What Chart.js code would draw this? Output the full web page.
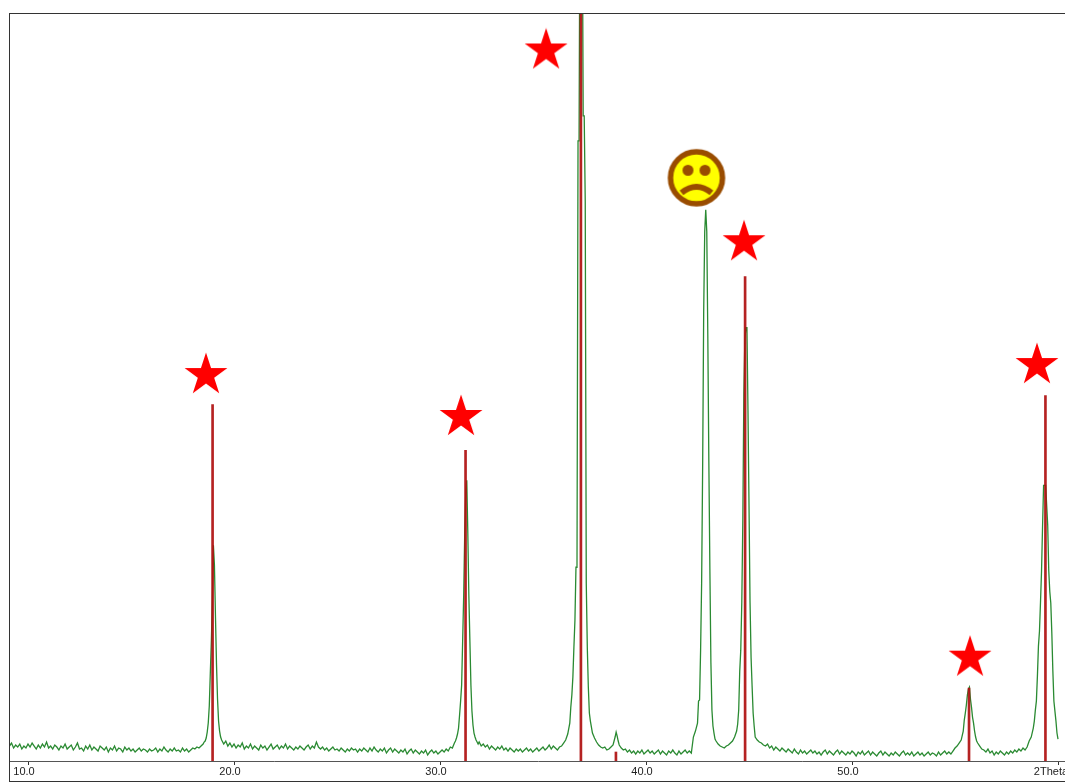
<!DOCTYPE html>
<html>
<head>
<meta charset="utf-8">
<title>XRD pattern</title>
<script src="https://cdn.jsdelivr.net/npm/chart.js@4"></script>
<style>
    html, body { margin: 0; padding: 0; background: #fff; overflow: hidden; }
    #frame {
        position: absolute; left: 9px; top: 13px; width: 1060px; height: 767px;
        border: 1px solid #333; border-right: none; overflow: hidden;
    }
    canvas { display: block; }
</style>
</head>
<body>
<div id="frame"><canvas id="xrdChart" width="1056" height="767"></canvas></div>
<script>
// Values
const xTickValues = [10, 20, 30, 40, 50, 60];
const xTickLabels = ['10.0', '20.0', '30.0', '40.0', '50.0', '2Theta  '];

// measured scan (2theta, intensity)
const scanX = [
    9.1, 9.2, 9.3, 9.4, 9.5, 9.6, 9.7, 9.8, 9.9, 10.0,
    10.1, 10.2, 10.3, 10.4, 10.5, 10.6, 10.7, 10.8, 10.9, 11.0,
    11.1, 11.2, 11.3, 11.4, 11.5, 11.6, 11.7, 11.8, 11.9, 12.0,
    12.1, 12.2, 12.3, 12.4, 12.5, 12.6, 12.7, 12.8, 12.9, 13.0,
    13.1, 13.2, 13.3, 13.4, 13.5, 13.6, 13.7, 13.8, 13.9, 14.0,
    14.1, 14.2, 14.3, 14.4, 14.5, 14.6, 14.7, 14.8, 14.9, 15.0,
    15.1, 15.2, 15.3, 15.4, 15.5, 15.6, 15.7, 15.8, 15.9, 16.0,
    16.1, 16.2, 16.3, 16.4, 16.5, 16.6, 16.7, 16.8, 16.9, 17.0,
    17.1, 17.2, 17.3, 17.4, 17.5, 17.6, 17.7, 17.8, 17.9, 18.0,
    18.1, 18.2, 18.3, 18.4, 18.5, 18.55, 18.6, 18.65, 18.7, 18.75,
    18.8, 18.85, 18.9, 18.95, 19.0, 19.05, 19.1, 19.15, 19.2, 19.25,
    19.3, 19.35, 19.4, 19.45, 19.5, 19.6, 19.7, 19.8, 19.9, 20.0,
    20.1, 20.2, 20.3, 20.4, 20.5, 20.6, 20.7, 20.8, 20.9, 21.0,
    21.1, 21.2, 21.3, 21.4, 21.5, 21.6, 21.7, 21.8, 21.9, 22.0,
    22.1, 22.2, 22.3, 22.4, 22.5, 22.6, 22.7, 22.8, 22.9, 23.0,
    23.1, 23.2, 23.3, 23.4, 23.5, 23.6, 23.7, 23.8, 23.9, 24.0,
    24.1, 24.2, 24.3, 24.4, 24.5, 24.6, 24.7, 24.8, 24.9, 25.0,
    25.1, 25.2, 25.3, 25.4, 25.5, 25.6, 25.7, 25.8, 25.9, 26.0,
    26.1, 26.2, 26.3, 26.4, 26.5, 26.6, 26.7, 26.8, 26.9, 27.0,
    27.1, 27.2, 27.3, 27.4, 27.5, 27.6, 27.7, 27.8, 27.9, 28.0,
    28.1, 28.2, 28.3, 28.4, 28.5, 28.6, 28.7, 28.8, 28.9, 29.0,
    29.1, 29.2, 29.3, 29.4, 29.5, 29.6, 29.7, 29.8, 29.9, 30.0,
    30.1, 30.2, 30.3, 30.4, 30.5, 30.6, 30.7, 30.75, 30.8, 30.85,
    30.9, 30.95, 31.0, 31.05, 31.1, 31.15, 31.2, 31.25, 31.3, 31.35,
    31.4, 31.45, 31.5, 31.55, 31.6, 31.65, 31.7, 31.75, 31.8, 31.85,
    31.9, 32.0, 32.1, 32.2, 32.3, 32.4, 32.5, 32.6, 32.7, 32.8,
    32.9, 33.0, 33.1, 33.2, 33.3, 33.4, 33.5, 33.6, 33.7, 33.8,
    33.9, 34.0, 34.1, 34.2, 34.3, 34.4, 34.5, 34.6, 34.7, 34.8,
    34.9, 35.0, 35.1, 35.2, 35.3, 35.4, 35.5, 35.6, 35.7, 35.8,
    35.9, 36.0, 36.1, 36.2, 36.3, 36.35, 36.4, 36.45, 36.5, 36.55,
    36.6, 36.65, 36.7, 36.75, 36.8, 36.85, 36.9, 36.95, 37.0, 37.05,
    37.1, 37.15, 37.2, 37.25, 37.3, 37.35, 37.4, 37.5, 37.6, 37.7,
    37.8, 37.9, 38.0, 38.1, 38.2, 38.3, 38.4, 38.45, 38.5, 38.55,
    38.6, 38.65, 38.7, 38.8, 38.9, 39.0, 39.1, 39.2, 39.3, 39.4,
    39.5, 39.6, 39.7, 39.8, 39.9, 40.0, 40.1, 40.2, 40.3, 40.4,
    40.5, 40.6, 40.7, 40.8, 40.9, 41.0, 41.1, 41.2, 41.3, 41.4,
    41.5, 41.6, 41.7, 41.8, 41.9, 42.0, 42.1, 42.2, 42.3, 42.4,
    42.5, 42.55, 42.6, 42.65, 42.7, 42.75, 42.8, 42.85, 42.9, 42.95,
    43.0, 43.05, 43.1, 43.15, 43.2, 43.25, 43.3, 43.35, 43.4, 43.5,
    43.6, 43.7, 43.8, 43.9, 44.0, 44.1, 44.2, 44.3, 44.4, 44.45,
    44.5, 44.55, 44.6, 44.65, 44.7, 44.75, 44.8, 44.85, 44.9, 44.95,
    45.0, 45.05, 45.1, 45.15, 45.2, 45.25, 45.3, 45.4, 45.5, 45.6,
    45.7, 45.8, 45.9, 46.0, 46.1, 46.2, 46.3, 46.4, 46.5, 46.6,
    46.7, 46.8, 46.9, 47.0, 47.1, 47.2, 47.3, 47.4, 47.5, 47.6,
    47.7, 47.8, 47.9, 48.0, 48.1, 48.2, 48.3, 48.4, 48.5, 48.6,
    48.7, 48.8, 48.9, 49.0, 49.1, 49.2, 49.3, 49.4, 49.5, 49.6,
    49.7, 49.8, 49.9, 50.0, 50.1, 50.2, 50.3, 50.4, 50.5, 50.6,
    50.7, 50.8, 50.9, 51.0, 51.1, 51.2, 51.3, 51.4, 51.5, 51.6,
    51.7, 51.8, 51.9, 52.0, 52.1, 52.2, 52.3, 52.4, 52.5, 52.6,
    52.7, 52.8, 52.9, 53.0, 53.1, 53.2, 53.3, 53.4, 53.5, 53.6,
    53.7, 53.8, 53.9, 54.0, 54.1, 54.2, 54.3, 54.4, 54.5, 54.6,
    54.7, 54.8, 54.9, 55.0, 55.1, 55.2, 55.3, 55.4, 55.45, 55.5,
    55.55, 55.6, 55.65, 55.7, 55.75, 55.8, 55.85, 55.9, 55.95, 56.0,
    56.05, 56.1, 56.2, 56.3, 56.4, 56.5, 56.6, 56.7, 56.8, 56.9,
    57.0, 57.1, 57.2, 57.3, 57.4, 57.5, 57.6, 57.7, 57.8, 57.9,
    58.0, 58.1, 58.2, 58.3, 58.4, 58.5, 58.6, 58.7, 58.8, 58.85,
    58.9, 58.95, 59.0, 59.05, 59.1, 59.15, 59.2, 59.25, 59.3, 59.35,
    59.4, 59.45, 59.5, 59.55, 59.6, 59.65, 59.7, 59.75, 59.8, 59.85,
    59.9, 59.95, 60.0
];
const scanY = [
    15, 18, 13, 16, 14, 17, 12, 15, 13, 17,
    14, 18, 15, 12, 16, 13, 17, 14, 19, 13,
    15, 12, 16, 14, 11, 15, 13, 17, 12, 14,
    16, 11, 14, 18, 12, 13, 10, 15, 12, 16,
    11, 14, 12, 10, 15, 13, 11, 14, 9, 13,
    11, 15, 10, 13, 12, 9, 14, 11, 13, 10,
    12, 9, 11, 13, 10, 12, 11, 9, 12, 10,
    11, 13, 9, 12, 10, 14, 11, 9, 12, 10,
    13, 10, 11, 9, 13, 10, 12, 9, 11, 13,
    12, 14, 13, 15, 17, 19, 20, 23, 29, 38,
    55, 88, 120, 161, 216, 196, 145, 97, 62, 40,
    30, 24, 21, 19, 17, 20, 15, 18, 14, 17,
    13, 16, 14, 18, 12, 15, 13, 17, 12, 15,
    13, 11, 16, 13, 15, 11, 14, 17, 12, 14,
    16, 12, 15, 13, 17, 12, 15, 13, 11, 14,
    12, 15, 13, 11, 14, 16, 12, 15, 13, 19,
    14, 12, 14, 11, 13, 10, 12, 14, 11, 12,
    10, 13, 11, 9, 12, 10, 13, 11, 12, 9,
    12, 10, 13, 11, 9, 13, 10, 14, 11, 9,
    12, 10, 13, 8, 11, 13, 9, 12, 10, 8,
    11, 9, 12, 7, 10, 12, 8, 11, 9, 7,
    10, 8, 11, 6, 9, 11, 8, 10, 7, 9,
    11, 9, 12, 10, 14, 13, 18, 20, 23, 27,
    33, 46, 60, 76, 121, 166, 228, 270, 281, 228,
    166, 121, 76, 50, 36, 28, 24, 21, 19, 17,
    19, 15, 17, 14, 16, 12, 15, 13, 11, 14,
    12, 15, 11, 13, 10, 13, 11, 9, 12, 10,
    12, 9, 11, 13, 10, 12, 9, 11, 13, 10,
    12, 14, 11, 13, 16, 12, 15, 13, 11, 14,
    15, 18, 21, 27, 38, 54, 66, 84, 114, 141,
    194, 194, 621, 621, 900, 900, 900, 646, 646, 560,
    178, 114, 74, 48, 40, 34, 28, 23, 19, 16,
    14, 13, 14, 11, 12, 14, 16, 20, 24, 29,
    25, 20, 16, 13, 11, 12, 9, 11, 8, 10,
    7, 10, 8, 11, 7, 9, 11, 8, 10, 7,
    9, 11, 7, 10, 8, 6, 10, 8, 11, 8,
    6, 10, 7, 9, 11, 8, 10, 8, 24, 30,
    38, 60, 61, 111, 178, 296, 450, 530, 552, 530,
    426, 301, 193, 99, 51, 35, 28, 22, 20, 17,
    15, 14, 13, 15, 16, 18, 20, 24, 30, 37,
    51, 90, 111, 159, 241, 369, 423, 434, 434, 351,
    256, 159, 104, 75, 48, 35, 24, 21, 19, 18,
    16, 15, 17, 13, 15, 11, 14, 12, 10, 13,
    11, 9, 12, 10, 8, 12, 9, 7, 11, 8,
    10, 7, 9, 11, 8, 10, 7, 9, 6, 9,
    11, 7, 10, 8, 6, 9, 11, 7, 10, 8,
    6, 9, 7, 10, 8, 5, 9, 7, 10, 6,
    8, 10, 6, 9, 7, 5, 8, 10, 6, 9,
    7, 5, 8, 6, 9, 7, 5, 8, 10, 6,
    8, 6, 9, 5, 7, 9, 6, 8, 5, 7,
    9, 6, 8, 7, 5, 9, 6, 8, 10, 7,
    9, 7, 10, 13, 15, 18, 21, 30, 41, 48,
    56, 66, 72, 74, 62, 54, 44, 38, 30, 24,
    20, 18, 15, 12, 11, 9, 12, 8, 10, 6,
    9, 7, 10, 8, 6, 9, 7, 10, 8, 11,
    9, 12, 10, 13, 11, 14, 20, 24, 33, 40,
    51, 60, 85, 115, 130, 159, 190, 235, 276, 276,
    276, 256, 236, 191, 170, 158, 128, 90, 60, 50,
    40, 28, 22
];

// reference lines
const refX = [18.96, 31.24, 36.84, 38.54, 44.81, 55.68, 59.39];
const refY = [357, 311, 900, 9, 485, 73, 366];

// markers drawn on top of the picture
const starX = [18.64, 31.02, 35.15, 44.76, 55.73, 58.98];
const starY = [386.5, 344.5, 711.5, 519.5, 103.5, 396.5];
const sadX = [42.45];
const sadY = [584];

function zip(xs, ys) {
    return xs.map(function(x, i) { return { x: x, y: ys[i] }; });
}

function makeStar() {
    const c = document.createElement('canvas');
    c.width = 46;
    c.height = 46;
    const ctx = c.getContext('2d');
    ctx.fillStyle = '#ff0000';
    ctx.beginPath();
    for (let i = 0; i < 10; i++) {
        const r = i % 2 ? 8.6 : 22.5;
        const a = -Math.PI / 2 + i * Math.PI / 5;
        ctx.lineTo(23 + r * Math.cos(a), 23 + r * Math.sin(a));
    }
    ctx.closePath();
    ctx.fill();
    return c;
}

function makeSad() {
    const c = document.createElement('canvas');
    c.width = 60;
    c.height = 60;
    const ctx = c.getContext('2d');
    const brown = '#994c00';
    ctx.beginPath();
    ctx.arc(30, 30, 26, 0, Math.PI * 2);
    ctx.fillStyle = '#ffff00';
    ctx.fill();
    ctx.lineWidth = 5.5;
    ctx.strokeStyle = brown;
    ctx.stroke();
    ctx.fillStyle = brown;
    ctx.beginPath();
    ctx.arc(21.5, 22.5, 5.5, 0, Math.PI * 2);
    ctx.arc(38.5, 22.5, 5.5, 0, Math.PI * 2);
    ctx.fill();
    ctx.beginPath();
    ctx.moveTo(15, 45);
    ctx.quadraticCurveTo(30, 33, 45, 45);
    ctx.lineWidth = 6;
    ctx.stroke();
    return c;
}

new Chart(document.getElementById('xrdChart').getContext('2d'), {
    data: {
        datasets: [
            {
                type: 'scatter',
                data: zip(starX, starY),
                pointStyle: makeStar(),
                order: 0
            },
            {
                type: 'scatter',
                data: zip(sadX, sadY),
                pointStyle: makeSad(),
                order: 0
            },
            {
                type: 'bar',
                data: zip(refX, refY),
                backgroundColor: 'rgba(175, 15, 15, 0.92)',
                barThickness: 2,
                order: 1
            },
            {
                type: 'line',
                data: zip(scanX, scanY),
                borderColor: '#2a8a32',
                borderWidth: 1.3,
                pointRadius: 0,
                order: 2
            }
        ]
    },
    options: {
        responsive: false,
        animation: false,
        layout: { padding: 0, autoPadding: false },
        plugins: { legend: { display: false }, tooltip: { enabled: false } },
        scales: {
            x: {
                type: 'linear',
                offset: false,
                min: 9.126,
                max: 60.388,
                border: { color: '#555', width: 1 },
                grid: { offset: false, drawOnChartArea: false, tickLength: 4, tickColor: '#333' },
                ticks: {
                    autoSkip: false,
                    maxRotation: 0,
                    minRotation: 0,
                    labelOffset: -4,
                    padding: 0,
                    color: '#222',
                    font: { family: 'Liberation Sans', size: 11 },
                    callback: function(value, index) { return xTickLabels[index]; }
                },
                afterBuildTicks: function(scale) {
                    scale.ticks = xTickValues.map(function(v) { return { value: v }; });
                },
                afterFit: function(scale) {
                    scale.height = 20;
                    scale.paddingLeft = 0;
                    scale.paddingRight = 0;
                }
            },
            y: { display: false, min: 0, max: 748 }
        }
    }
});
</script>
</body>
</html>
